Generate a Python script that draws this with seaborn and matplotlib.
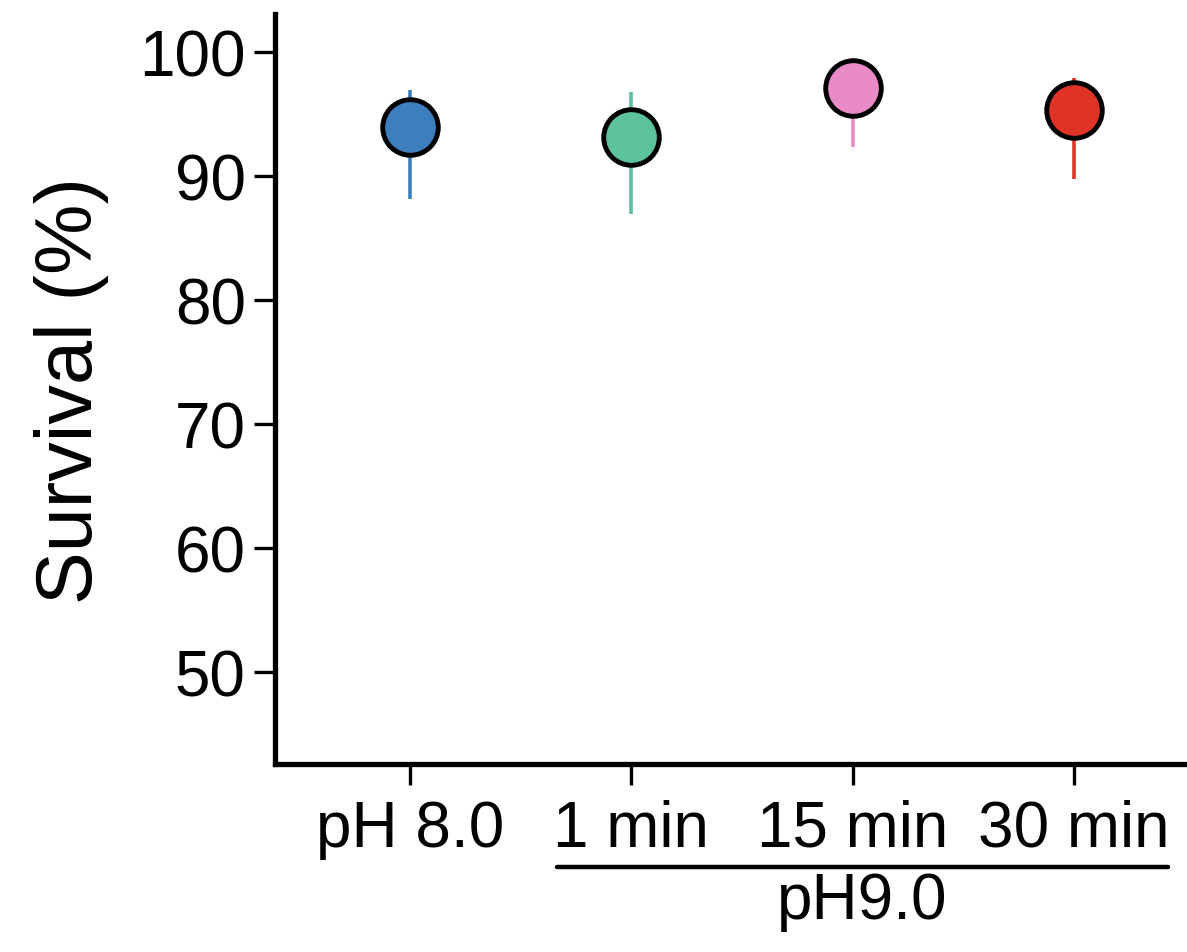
import matplotlib
matplotlib.use("Agg")
import matplotlib.pyplot as plt
import seaborn as sns
import pandas as pd
import numpy as np

conditions = ["pH 8.0", "1 min", "15 min", "30 min"]
means = [93.9, 93.1, 97.1, 95.3]
upper = [96.9, 96.7, 99.5, 97.9]
lower = [88.1, 86.9, 92.3, 89.7]
colors = ["#3D7EBF", "#5CC29B", "#E98BC8", "#DF3328"]
group_label = "pH9.0"
ylabel = "Survival (%)"
yticks = [50, 60, 70, 80, 90, 100]

sns.set_style("ticks")
plt.rcParams['font.family'] = ['Liberation Sans', 'DejaVu Sans']
plt.rcParams['text.color'] = 'black'
plt.rcParams['axes.labelcolor'] = 'black'
plt.rcParams['xtick.color'] = 'black'
plt.rcParams['ytick.color'] = 'black'

df = pd.DataFrame({"condition": conditions, "survival": means})

fig = plt.figure(figsize=(11.87, 9.53), dpi=100)
ax = fig.add_axes([0.2317, 0.197, 0.7683, 0.787])

for i, c in enumerate(conditions):
    ax.vlines(i, lower[i], upper[i], color=colors[i], lw=2.6, zorder=1)

sns.stripplot(data=df, x="condition", y="survival", hue="condition",
              palette=colors, jitter=False, size=40, linewidth=3.5,
              edgecolor="black", legend=False, ax=ax, zorder=3)

ax.set_xlim(-0.61, 3.51)
ax.set_ylim(42.6, 103)
ax.set_yticks(yticks)
ax.set_xlabel("")
ax.set_ylabel(ylabel, fontsize=57, labelpad=22)
ax.tick_params(axis='both', labelsize=46, width=2.4, length=15, color='black',
               labelcolor='black')
ax.tick_params(axis='x', pad=10)
ax.tick_params(axis='y', pad=6)
for s in ["left", "bottom"]:
    ax.spines[s].set_linewidth(3.8)
    ax.spines[s].set_color("black")
sns.despine(ax=ax)

# group line under "1 min".."30 min"
x0 = 557 / 1187
x1 = 1168 / 1187
yline = 1 - 868 / 953
fig.add_artist(plt.Line2D([x0, x1], [yline, yline], transform=fig.transFigure,
                          color="black", lw=3.2))
fig.text((x0 + x1) / 2, 1 - 902 / 953, group_label, fontsize=46,
         ha="center", va="center", color="black")

fig.savefig("out.png", dpi=100)
